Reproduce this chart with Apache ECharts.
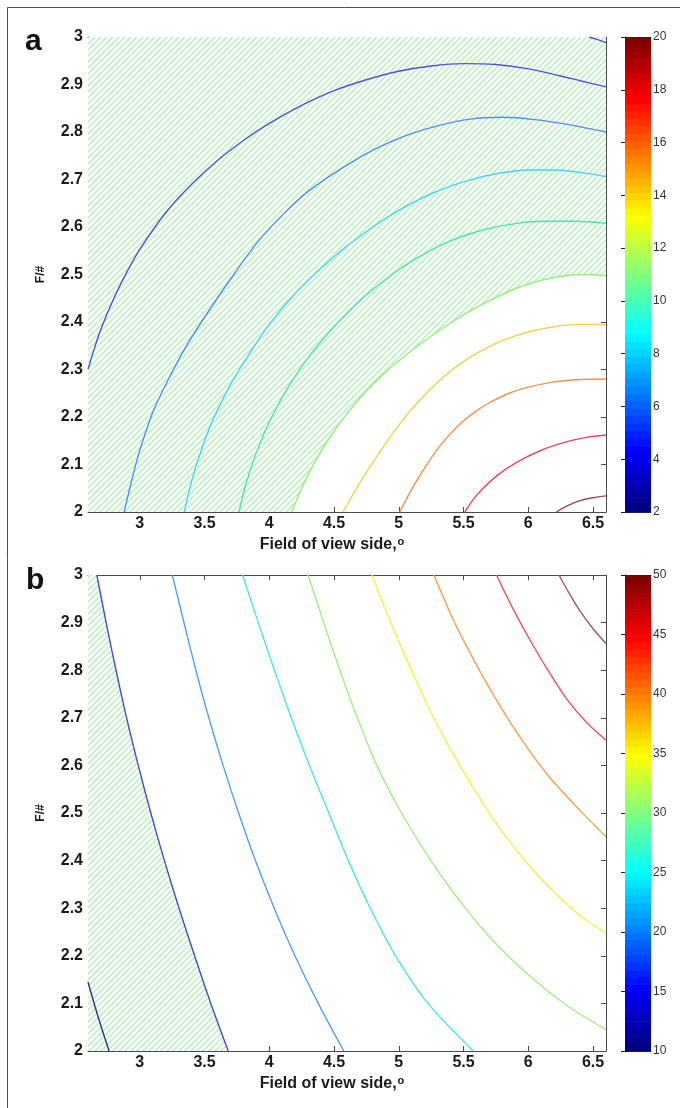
<!DOCTYPE html>
<html><head><meta charset="utf-8">
<script src="https://cdn.jsdelivr.net/npm/echarts@6/dist/echarts.min.js"></script>
<style>html,body{margin:0;padding:0;background:#fff}#c{width:680px;height:1108px}</style>
</head><body><div id="c"></div>
<script>
// ---------- tick labels ----------
const X_TICKS = [3, 3.5, 4, 4.5, 5, 5.5, 6, 6.5];
const A_CB_TICKS = [2, 4, 6, 8, 10, 12, 14, 16, 18, 20];
const B_CB_TICKS = [10, 15, 20, 25, 30, 35, 40, 45, 50];
const A_CB_RANGE = [2, 20];
const B_CB_RANGE = [10, 50];

// ---------- panel a contour lines [field of view side, F/#] ----------
const A_C0 = [[6.47,3.0],[6.53,2.995],[6.6,2.988]];
const A_C1 = [[2.6,2.300],[2.65,2.345],[2.7,2.385],[2.8,2.450],[2.9,2.505],[3.0,2.553],[3.2,2.630],[3.4,2.690],[3.6,2.740],[3.8,2.782],[4.0,2.818],[4.25,2.856],[4.5,2.887],[4.75,2.910],[5.0,2.928],[5.25,2.939],[5.5,2.944],[5.75,2.942],[6.0,2.933],[6.25,2.918],[6.4,2.908],[6.6,2.895]];
const A_C2 = [[2.879,2.0],[2.95,2.08],[3.0,2.13],[3.1,2.21],[3.2,2.268],[3.35,2.345],[3.5,2.41],[3.7,2.49],[3.9,2.565],[4.1,2.625],[4.3,2.675],[4.55,2.722],[4.8,2.762],[5.05,2.792],[5.3,2.813],[5.55,2.827],[5.8,2.831],[6.05,2.826],[6.3,2.816],[6.6,2.80]];
const A_C3 = [[3.344,2.0],[3.4,2.065],[3.45,2.11],[3.55,2.185],[3.7,2.268],[3.85,2.335],[4.0,2.395],[4.2,2.46],[4.4,2.513],[4.6,2.56],[4.8,2.6],[5.0,2.635],[5.25,2.67],[5.5,2.695],[5.75,2.712],[6.0,2.72],[6.2,2.72],[6.4,2.715],[6.6,2.706]];
const A_C4 = [[3.766,2.0],[3.82,2.06],[3.9,2.125],[4.0,2.19],[4.15,2.265],[4.3,2.325],[4.5,2.39],[4.7,2.445],[4.9,2.49],[5.1,2.528],[5.35,2.565],[5.6,2.59],[5.85,2.605],[6.1,2.612],[6.35,2.612],[6.6,2.608]];
const A_C5 = [[4.172,2.0],[4.25,2.05],[4.35,2.105],[4.5,2.17],[4.7,2.24],[4.9,2.295],[5.1,2.34],[5.3,2.38],[5.5,2.415],[5.7,2.445],[5.9,2.47],[6.1,2.488],[6.3,2.498],[6.45,2.5],[6.6,2.497]];
const A_C6 = [[4.57,2.0],[4.7,2.062],[4.85,2.125],[5.0,2.183],[5.15,2.232],[5.3,2.273],[5.45,2.307],[5.6,2.334],[5.8,2.361],[6.0,2.379],[6.2,2.39],[6.4,2.395],[6.6,2.395]];
const A_C7 = [[5.008,2.0],[5.1,2.048],[5.2,2.093],[5.3,2.133],[5.4,2.165],[5.5,2.192],[5.6,2.213],[5.7,2.23],[5.85,2.25],[6.0,2.263],[6.2,2.274],[6.4,2.279],[6.6,2.28]];
const A_C8 = [[5.51,2.0],[5.6,2.035],[5.75,2.075],[5.9,2.103],[6.1,2.13],[6.3,2.148],[6.45,2.157],[6.6,2.162]];
const A_C9 = [[6.217,2.0],[6.3,2.013],[6.4,2.024],[6.5,2.03],[6.6,2.034]];

// ---------- panel b contour lines ----------
const B_C0 = [[2.6,2.145],[2.68,2.07],[2.763,2.0]];
const B_C1 = [[2.668,3.0],[2.740,2.9],[2.816,2.8],[2.898,2.7],[2.988,2.6],[3.085,2.5],[3.19,2.4],[3.303,2.3],[3.423,2.2],[3.548,2.1],[3.683,2.0]];
const B_C2 = [[3.251,3.0],[3.341,2.9],[3.433,2.8],[3.533,2.7],[3.643,2.6],[3.763,2.5],[3.893,2.4],[4.038,2.3],[4.198,2.2],[4.378,2.1],[4.575,2.0]];
const B_C3 = [[3.794,3.0],[3.915,2.9],[4.04,2.8],[4.17,2.7],[4.31,2.6],[4.46,2.5],[4.61,2.4],[4.78,2.3],[4.975,2.2],[5.225,2.1],[5.574,2.0]];
const B_C4 = [[4.30,3.0],[4.42,2.9],[4.545,2.8],[4.68,2.7],[4.83,2.6],[5.0,2.51],[5.2,2.42],[5.43,2.33],[5.7,2.24],[6.0,2.16],[6.3,2.095],[6.6,2.045]];
const B_C5 = [[4.794,3.0],[4.9,2.925],[5.0,2.86],[5.12,2.787],[5.24,2.716],[5.38,2.643],[5.523,2.576],[5.66,2.516],[5.79,2.464],[5.986,2.396],[6.243,2.322],[6.42,2.28],[6.6,2.248]];
const B_C6 = [[5.27,3.0],[5.36,2.943],[5.446,2.891],[5.651,2.786],[5.883,2.681],[6.14,2.583],[6.397,2.506],[6.6,2.45]];
const B_C7 = [[5.754,3.0],[5.88,2.93],[6.01,2.865],[6.14,2.805],[6.29,2.742],[6.45,2.69],[6.6,2.653]];
const B_C8 = [[6.237,3.0],[6.3,2.969],[6.4,2.924],[6.5,2.887],[6.6,2.856]];

// ---------- styles ----------
const A_LINES = [A_C0,A_C1,A_C2,A_C3,A_C4,A_C5,A_C6,A_C7,A_C8,A_C9];
const A_COLORS = ['#5050dc','#5050dc','#5090f0','#48d4f2','#50e0b4','#98f07c','#f8d048','#f89050','#e84858','#a04848'];
const B_LINES = [B_C0,B_C1,B_C2,B_C3,B_C4,B_C5,B_C6,B_C7,B_C8];
const B_COLORS = ['#303088','#4848d4','#50a0f4','#48e4f4','#a0f080','#f8f040','#f8a050','#f05060','#a05858'];

const FONT = 'Liberation Sans, Arial, sans-serif';

// hatched regions built from the boundary contours
const HATCH_A = [[2.6,2.0],[2.6,3.0],[6.6,3.0]].concat(A_C5.slice().reverse());
const HATCH_B = [[2.6,3.0]].concat(B_C1).concat([[2.6,2.0]]);

function makePattern(){
  const c = document.createElement('canvas');
  c.width = 6; c.height = 6;
  const g = c.getContext('2d');
  g.fillStyle = '#ffffff'; g.fillRect(0,0,6,6);
  g.strokeStyle = '#bff0c4'; g.lineWidth = 1.7;
  g.beginPath();
  g.moveTo(-1,7); g.lineTo(7,-1);
  g.moveTo(-4,4); g.lineTo(4,-4);
  g.moveTo(2,10); g.lineTo(10,2);
  g.stroke();
  return c;
}
const PATTERN = {image: makePattern(), repeat: 'repeat'};

function jet(t){
  const cl = v => Math.max(0, Math.min(1, v));
  const r = cl(1.5 - Math.abs(4*t - 3));
  const g = cl(1.5 - Math.abs(4*t - 2));
  const b = cl(1.5 - Math.abs(4*t - 1));
  return 'rgb(' + Math.round(r*255) + ',' + Math.round(g*255) + ',' + Math.round(b*255) + ')';
}

const chart = echarts.init(document.getElementById('c'), null, {renderer: 'canvas'});

const frameLine = {show: true, lineStyle: {color: '#4a4a4a', width: 1}};
const tickLbl = {fontFamily: FONT, fontSize: 16, fontWeight: 'bold', color: '#1a1a1a'};

function plotAxesX(gi){
  return [
    {type:'value', gridIndex:gi, position:'bottom', min:2.6, max:6.6,
     axisLine: frameLine, splitLine:{show:false},
     axisTick:{inside:true, length:5, customValues:X_TICKS, lineStyle:{color:'#4a4a4a'}},
     axisLabel:Object.assign({customValues:X_TICKS, margin:4, formatter: v => String(v)}, tickLbl),
     name:'{t|Field of view side,}{o|o}', nameLocation:'middle', nameGap:24,
     nameTextStyle:{padding:[0,30,0,0], rich:{
       t:{fontFamily:FONT, fontSize:16, fontWeight:'bold', color:'#1a1a1a', lineHeight:18},
       o:{fontFamily:FONT, fontSize:11, fontWeight:'bold', color:'#1a1a1a', lineHeight:18, verticalAlign:'top', padding:[0,0,0,1]}}}},
    {type:'value', gridIndex:gi, position:'top', min:2.6, max:6.6,
     axisLine: frameLine, splitLine:{show:false},
     axisTick:{inside:true, length:5, customValues:X_TICKS, lineStyle:{color:'#4a4a4a'}},
     axisLabel:{show:false}}
  ];
}
function plotAxesY(gi){
  return [
    {type:'value', gridIndex:gi, position:'left', min:2, max:3, interval:0.1,
     axisLine: frameLine, splitLine:{show:false},
     axisTick:{inside:true, length:5, lineStyle:{color:'#4a4a4a'}},
     axisLabel:Object.assign({margin:5}, tickLbl),
     name:'F/#', nameLocation:'middle', nameGap:41,
     nameTextStyle:{fontFamily:FONT, fontSize:12, fontWeight:'bold', color:'#1a1a1a'}},
    {type:'value', gridIndex:gi, position:'right', min:2, max:3, interval:0.1,
     axisLine: frameLine, splitLine:{show:false},
     axisTick:{inside:true, length:5, lineStyle:{color:'#4a4a4a'}},
     axisLabel:{show:false}}
  ];
}
function cbAxesY(gi, range, ticks){
  return [
    {type:'value', gridIndex:gi, position:'left', min:range[0], max:range[1],
     axisLine: frameLine, splitLine:{show:false},
     axisTick:{inside:true, length:4, customValues:ticks, lineStyle:{color:'#222'}}, axisLabel:{show:false}},
    {type:'value', gridIndex:gi, position:'right', min:range[0], max:range[1],
     axisLine: frameLine, splitLine:{show:false},
     axisTick:{inside:true, length:4, customValues:ticks, lineStyle:{color:'#222'}},
     axisLabel:{customValues:ticks, margin:2, fontFamily:FONT, fontSize:12, color:'#333'}}
  ];
}
function cbAxisX(gi){
  return [{type:'value', gridIndex:gi, position:'bottom', min:0, max:1, show:true,
    axisLine: frameLine, axisTick:{show:false}, axisLabel:{show:false}, splitLine:{show:false}},
    {type:'value', gridIndex:gi, position:'top', min:0, max:1, show:true,
    axisLine: frameLine, axisTick:{show:false}, axisLabel:{show:false}, splitLine:{show:false}}];
}

const xAxis = [].concat(plotAxesX(0), plotAxesX(1), cbAxisX(2), cbAxisX(3));
const yAxis = [].concat(plotAxesY(0), plotAxesY(1), cbAxesY(2, A_CB_RANGE, A_CB_TICKS), cbAxesY(3, B_CB_RANGE, B_CB_TICKS));

function hatchSeries(poly, xi, yi){
  return {type:'custom', xAxisIndex:xi, yAxisIndex:yi, data:[[poly[0][0], poly[0][1]]], silent:true, z:1, clip:true,
    animation:false,
    renderItem:(params, api) => ({type:'polygon', shape:{points: poly.map(p => api.coord(p))},
      style:{fill: PATTERN, stroke: null}})};
}
function lineSeries(data, color, xi, yi){
  return {type:'line', xAxisIndex:xi, yAxisIndex:yi, data:data, showSymbol:false, symbol:'none',
    smooth:0.3, lineStyle:{color:color, width:1.4}, silent:true, z:3, clip:true, animation:false};
}
function colorbarSeries(xi, yi, range){
  const n = 64;
  const step = (range[1]-range[0])/n;
  const bands = [];
  for (let i = 0; i < n; i++) bands.push([0, i]);
  return {type:'custom', xAxisIndex:xi, yAxisIndex:yi, data:bands, silent:true, z:1, animation:false,
    renderItem:(params, api) => {
      const i = api.value(1);
      const v0 = range[0] + i*step, v1 = v0 + step;
      const p0 = api.coord([0, v0]), p1 = api.coord([1, v1]);
      return {type:'rect', shape:{x:p0[0], y:p1[1], width:p1[0]-p0[0], height:p0[1]-p1[1]+0.6},
        style:{fill: jet(i/(n-1))}};
    }};
}

const series = [];
series.push(hatchSeries(HATCH_A, 0, 0));
A_LINES.forEach((d, k) => series.push(lineSeries(d, A_COLORS[k], 0, 0)));
series.push(hatchSeries(HATCH_B, 2, 2));
B_LINES.forEach((d, k) => series.push(lineSeries(d, B_COLORS[k], 2, 2)));
series.push(colorbarSeries(4, 4, A_CB_RANGE));
series.push(colorbarSeries(6, 6, B_CB_RANGE));

chart.setOption({
  animation:false,
  backgroundColor:'#ffffff',
  grid:[
    {left:88, top:37, width:518, height:475},
    {left:88, top:575, width:518, height:476},
    {left:625, top:37, width:26, height:475},
    {left:625, top:575, width:26, height:476}
  ],
  xAxis: xAxis,
  yAxis: yAxis,
  series: series,
  graphic:[
    {type:'rect', shape:{x:7.5, y:7.5, width:720, height:1200}, style:{fill:null, stroke:'#505050', lineWidth:1}, silent:true, z:0},
    {type:'text', left:25, top:27, style:{text:'a', fontFamily:FONT, fontSize:30, fontWeight:'bold', fill:'#111'}},
    {type:'text', left:26, top:566, style:{text:'b', fontFamily:FONT, fontSize:30, fontWeight:'bold', fill:'#111'}}
  ]
});
</script>
</body></html>
